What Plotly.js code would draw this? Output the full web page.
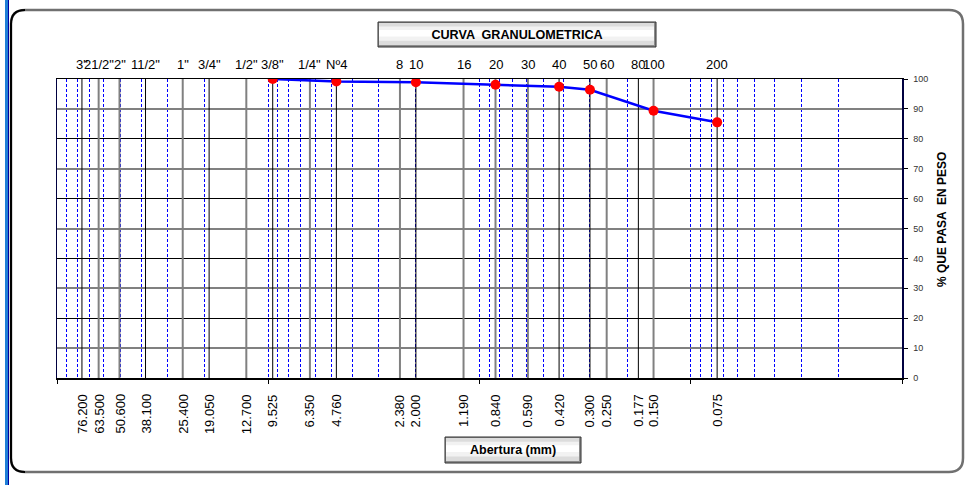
<!DOCTYPE html>
<html><head><meta charset="utf-8">
<script src="https://cdn.plot.ly/plotly-3.0.1.min.js"></script>
<style>html,body{margin:0;padding:0;background:#fff;}</style>
</head><body><div id="chart" style="width:972px;height:485px;"></div>
<script>
// ---- data ----
const sieveSizes = [76.2, 63.5, 50.6, 38.1, 25.4, 19.05, 12.7, 9.525, 6.35, 4.76, 2.38, 2.0, 1.19, 0.84, 0.59, 0.42, 0.3, 0.25, 0.177, 0.15, 0.075];
const sieveNames = ['3"', '21/2"', '2"', '11/2"', '1"', '3/4"', '1/2"', '3/8"', '1/4"', 'Nº4', '8', '10', '16', '20', '30', '40', '50', '60', '80', '100', '200'];
const sieveOpenings = ['76.200', '63.500', '50.600', '38.100', '25.400', '19.050', '12.700', '9.525', '6.350', '4.760', '2.380', '2.000', '1.190', '0.840', '0.590', '0.420', '0.300', '0.250', '0.177', '0.150', '0.075'];
const sieveLineGroup = ['k', 'g', 'g', 'k', 'g', 'k', 'g', 'k', 'g', 'k', 'g', 'k', 'g', 'g', 'g', 'k', 'k', 'g', 'k', 'g', 'k'];
const testSizes = [9.525, 4.76, 2.0, 0.84, 0.42, 0.3, 0.15, 0.075];
const percentPassing = [100, 99.2, 98.9, 98.1, 97.4, 96.4, 89.4, 85.5];
const chartTitle = 'CURVA  GRANULOMETRICA';
const xTitle = 'Abertura (mm)';
const yTitle = '% QUE PASA  EN PESO';

// ---- layout helpers ----
const FONT = 'Arial, "Liberation Sans", sans-serif';
const L = 57, R = 902, T = 79, B = 378;
const px = x => (x - L) / (R - L);
const py = y => (B - y) / (B - T);

function roundRect(x0, y0, x1, y1, r) {
  return `M ${px(x0 + r)},${py(y0)} L ${px(x1 - r)},${py(y0)} Q ${px(x1)},${py(y0)} ${px(x1)},${py(y0 + r)} ` +
         `L ${px(x1)},${py(y1 - r)} Q ${px(x1)},${py(y1)} ${px(x1 - r)},${py(y1)} ` +
         `L ${px(x0 + r)},${py(y1)} Q ${px(x0)},${py(y1)} ${px(x0)},${py(y1 - r)} ` +
         `L ${px(x0)},${py(y0 + r)} Q ${px(x0)},${py(y0)} ${px(x0 + r)},${py(y0)} Z`;
}
function leftEdge(x0, y0, y1, r) {
  return `M ${px(x0 + r)},${py(y0)} Q ${px(x0)},${py(y0)} ${px(x0)},${py(y0 + r)} L ${px(x0)},${py(y1 - r)} Q ${px(x0)},${py(y1)} ${px(x0 + r)},${py(y1)}`;
}
function rect(x0, y0, x1, y1, fill, line) {
  return {type: 'rect', xref: 'paper', yref: 'paper', x0: px(x0), x1: px(x1), y0: py(y1), y1: py(y0),
          fillcolor: fill, line: line || {width: 0}, layer: 'above'};
}
function box3d(x0, y0, x1, y1) {
  const h = y1 - y0;
  return [
    rect(x0, y0, x1, y1, '#8c8c8c', {width: 0}),
    rect(x0 + 1, y0 + 1, x1 - 2, y1 - 2, '#dcdcdc'),
    rect(x0 + 1, y0 + h * 0.18, x1 - 2, y1 - h * 0.25, '#f2f2f2'),
    rect(x0 + 1, y0 + h * 0.32, x1 - 2, y1 - h * 0.42, '#ffffff'),
    rect(x0, y0, x1, y1, 'rgba(0,0,0,0)', {color: '#303030', width: 1})
  ];
}

// ---- traces ----
function sieveLines(group) {
  const xs = [], ys = [];
  sieveSizes.forEach((s, i) => {
    if (sieveLineGroup[i] === group) { xs.push(s, s, null); ys.push(0, 100, null); }
  });
  return {x: xs, y: ys};
}
const gLines = sieveLines('g'), kLines = sieveLines('k');
const traces = [
  {x: [null], y: [null], yaxis: 'y', mode: 'markers', hoverinfo: 'skip', showlegend: false},
  {x: gLines.x, y: gLines.y, yaxis: 'y2', mode: 'lines', line: {color: '#808080', width: 2}, hoverinfo: 'skip', showlegend: false},
  {x: kLines.x, y: kLines.y, yaxis: 'y2', mode: 'lines', line: {color: '#000000', width: 1}, hoverinfo: 'skip', showlegend: false},
  {x: testSizes, y: percentPassing, yaxis: 'y2', mode: 'lines+markers',
   line: {color: '#0000ff', width: 2.5}, marker: {color: '#ff0000', size: 10}, showlegend: false}
];

// ---- gridline positions ----
const decades = [100, 10, 1, 0.1, 0.01];
const minorVals = [];
[0.01, 0.1, 1, 10].forEach(d => { for (let k = 2; k <= 9; k++) minorVals.push(+(k * d).toPrecision(3)); });
const yTicks = [0, 10, 20, 30, 40, 50, 60, 70, 80, 90, 100];
const yOdd = [10, 30, 50, 70, 90];

// ---- annotations ----
const annotations = [];
sieveSizes.forEach((s, i) => {
  annotations.push({x: Math.log10(s), xref: 'x', y: py(64), yref: 'paper', text: sieveNames[i],
    showarrow: false, xanchor: 'center', yanchor: 'middle', font: {family: FONT, size: 13, color: '#000'}});
  annotations.push({x: Math.log10(s), xref: 'x', y: py(392), yref: 'paper', text: sieveOpenings[i],
    showarrow: false, textangle: -90, xanchor: 'center', yanchor: 'top', font: {family: FONT, size: 13, color: '#000'}});
});
annotations.push({x: px(513), xref: 'paper', y: py(450), yref: 'paper', text: xTitle, showarrow: false,
  xanchor: 'center', yanchor: 'middle', font: {family: FONT, size: 12.5, weight: 700, color: '#000'}});
annotations.push({x: px(942), xref: 'paper', y: py(220), yref: 'paper', text: yTitle, showarrow: false, textangle: -90,
  xanchor: 'center', yanchor: 'middle', font: {family: FONT, size: 12, weight: 700, color: '#000'}});

// ---- shapes ----
const shapes = [
  {type: 'rect', xref: 'paper', yref: 'paper', x0: px(5), x1: px(8), y0: py(485), y1: py(0), fillcolor: '#1f7fd6', line: {width: 0}, layer: 'below'},
  {type: 'line', xref: 'paper', yref: 'paper', x0: px(8.5), x1: px(8.5), y0: py(485), y1: py(0), line: {color: '#0000a0', width: 1}, layer: 'below'},
  {type: 'path', xref: 'paper', yref: 'paper', path: roundRect(11, 10, 963, 472, 14), line: {color: '#707070', width: 2.5}, fillcolor: 'rgba(0,0,0,0)', layer: 'below'},
  {type: 'path', xref: 'paper', yref: 'paper', path: leftEdge(11, 10, 472, 14), line: {color: '#000000', width: 2}, layer: 'below'}
].concat(box3d(378, 22, 656, 47), box3d(445, 437, 581, 463));

const layout = {
  width: 972, height: 485,
  margin: {l: L, r: 972 - R, t: T, b: 485 - B, pad: 0},
  paper_bgcolor: '#ffffff', plot_bgcolor: '#ffffff',
  font: {family: FONT, color: '#000'},
  showlegend: false,
  title: {text: chartTitle, xref: 'container', yref: 'container', x: 517 / 972, xanchor: 'center',
          y: 1 - 35 / 485, yanchor: 'middle', font: {family: FONT, size: 12.6, weight: 700, color: '#000'}},
  xaxis: {
    type: 'log', range: [2, -2], fixedrange: true,
    tickvals: decades, showticklabels: false, ticks: 'outside', ticklen: 4, tickcolor: '#000',
    showgrid: true, gridcolor: '#0000ff', gridwidth: 1, griddash: '3px,2px',
    minor: {tickvals: minorVals, showgrid: true, gridcolor: '#0000ff', gridwidth: 1, griddash: '3px,2px', ticks: ''},
    showline: true, linecolor: '#000', linewidth: 1.5, mirror: true, zeroline: false
  },
  yaxis: {
    side: 'right', range: [0, 100], fixedrange: true,
    tickvals: yTicks, ticks: 'outside', ticklen: 4, tickcolor: '#000', ticklabelstandoff: 4,
    tickfont: {family: FONT, size: 9, color: '#333'},
    showgrid: true, gridcolor: '#000000', gridwidth: 1, zeroline: false,
    showline: true, linecolor: '#000040', linewidth: 1.5, mirror: true
  },
  yaxis2: {
    overlaying: 'y', side: 'right', range: [0, 100], fixedrange: true,
    tickvals: yOdd, showticklabels: false, ticks: '',
    showgrid: true, gridcolor: '#808080', gridwidth: 2, zeroline: false, showline: false
  },
  shapes: shapes,
  annotations: annotations
};

Plotly.newPlot('chart', traces, layout, {staticPlot: true, displayModeBar: false});
</script>
</body></html>
